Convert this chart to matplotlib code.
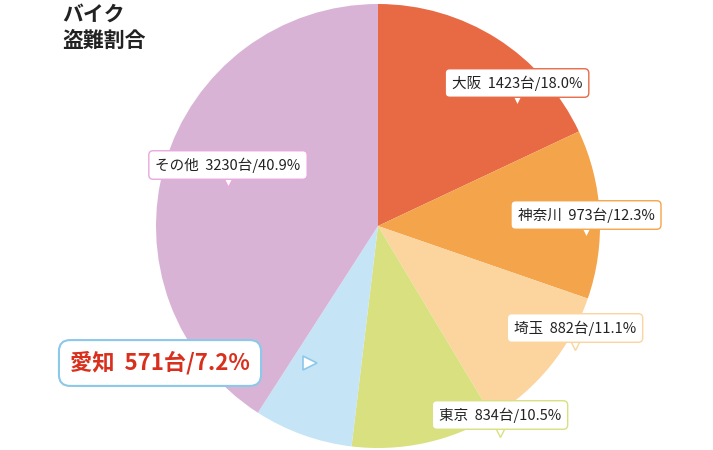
import matplotlib
matplotlib.use("Agg")
import matplotlib.pyplot as plt

plt.rcParams['font.family'] = ['Noto Sans CJK JP', 'DejaVu Sans']

regions = ["大阪", "神奈川", "埼玉", "東京", "愛知", "その他"]
counts = [1423, 973, 882, 834, 571, 3230]
shares = [18.0, 12.3, 11.1, 10.5, 7.2, 40.9]
colors = ["#e86a45", "#f4a44a", "#fbd49e", "#d9e080", "#c5e5f7", "#d9b3d6"]
label_pos = [(517, 367), (586, 235), (575, 122), (500, 35), (160, 87), (228, 285)]

fig = plt.figure(figsize=(7.13, 4.5), dpi=100)
ax = fig.add_axes([0, 0, 1, 1])

ax.pie(shares, colors=colors, startangle=90, counterclock=False,
       center=(378, 224), radius=222, wedgeprops=dict(linewidth=0), frame=True)
ax.set_xlim(0, 713)
ax.set_ylim(0, 450)
ax.set_aspect("equal")
ax.axis("off")

for name, n, s, c, (x, y) in zip(regions, counts, shares, colors, label_pos):
    edge = "#e8a8de" if name == "その他" else ("#8cc8ea" if name == "愛知" else c)
    if name == "愛知":
        ax.plot(x + 150, y, marker=">", ms=10, mfc="white", mec=edge, mew=1.2, zorder=2)
        ax.text(x, y, f"{name}  {n}台/{s}%", ha="center", va="center",
                fontsize=16, fontweight="bold", color="#d9301e", zorder=3,
                bbox=dict(boxstyle="round,pad=0.5,rounding_size=0.5", fc="white", ec=edge, lw=1.5))
    else:
        ax.plot(x, y - 16, marker="v", ms=8, mfc="white", mec=edge, mew=1, zorder=2)
        ax.text(x, y, f"{name}  {n}台/{s}%", ha="center", va="center",
                fontsize=10.5, color="#222222", zorder=3,
                bbox=dict(boxstyle="round,pad=0.45,rounding_size=0.3", fc="white", ec=edge, lw=1))

ax.text(62, 446, "バイク\n盗難割合", ha="left", va="top", fontsize=15,
        fontweight="bold", color="#222222", linespacing=1.3)

fig.savefig("out.png", dpi=100)
